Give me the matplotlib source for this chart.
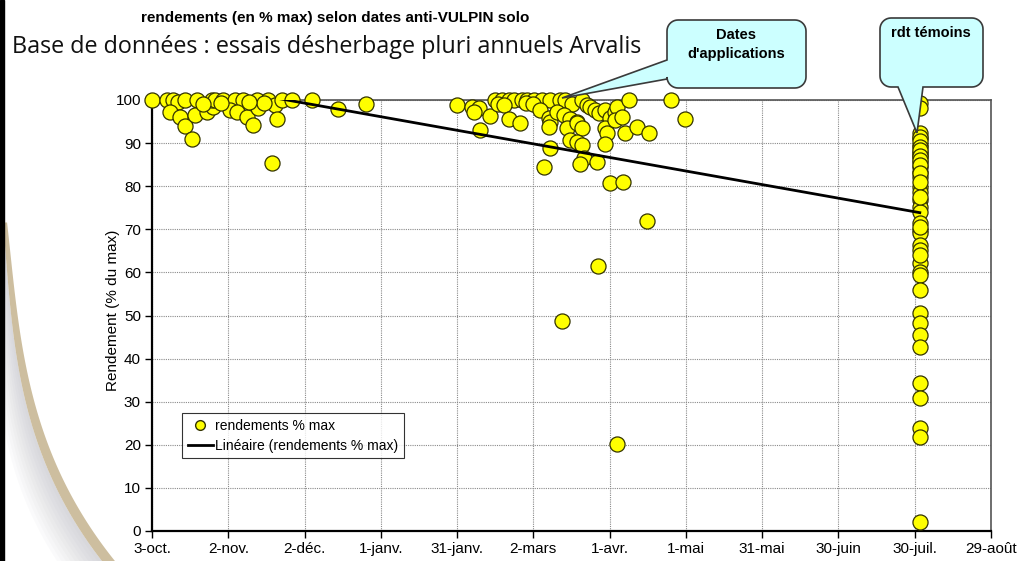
import matplotlib.pyplot as plt
from matplotlib.patches import Polygon, Rectangle
from matplotlib.lines import Line2D
import numpy as np

# jours comptés depuis le 3 octobre
labels_x = ['3-oct.', '2-nov.', '2-déc.', '1-janv.', '31-janv.', '2-mars',
            '1-avr.', '1-mai', '31-mai', '30-juin', '30-juil.', '29-août']

# essais d'automne
jours_automne = [0, 5.8, 8.3, 10.2, 13, 17.7, 7.1, 11, 13, 15.6, 16.9, 21.5, 24, 23.5,
                 24.8, 28, 32.7, 35.8, 30.7, 33.3, 37.3, 39.8, 41.2, 41.7, 45.7, 48.4,
                 51, 55, 49.1, 47.1, 62.9, 73.2, 84.2, 20, 27, 44, 38]
rdt_automne = [100, 100, 100, 99.5, 100, 100, 97.3, 96.1, 94.0, 90.9, 96.5, 97.3, 98.4, 100,
               100, 100, 100, 100, 97.7, 97.3, 96.1, 94.2, 100, 98.1, 100, 98.8,
               100, 100, 95.6, 85.3, 100, 97.9, 99.1, 99, 99.3, 99.2, 99.5]

# essais de sortie d'hiver / printemps
jours_printemps = [119.8, 125.9, 128.5, 126.5, 129.1, 133, 135, 137.7, 140.3, 142.2, 145.6,
                   147.5, 150.1, 153.4, 156.7, 136, 138.5, 147, 150, 140.3, 144.9, 152.8,
                   156, 156.7, 156, 156.7, 154, 160.6, 162.6, 165.2, 169.2, 171.1, 159.3,
                   161.9, 164.6, 167.2, 163.3, 167.2, 169.2, 164.6, 167.2, 169.2, 169.8,
                   168.5, 175, 172.4, 174.4, 175.7, 178.3, 180.3, 182.3, 183, 187.5, 178.3,
                   179, 178.3, 182.3, 184.9, 186.2, 190.8, 195.4, 180.3, 185.3, 204.3,
                   209.8, 194.5, 175.3, 161.3, 182.7]
rdt_printemps = [98.9, 98.4, 98.1, 97.3, 93.0, 96.4, 100, 100, 100, 100, 100,
                 100, 100, 100, 100, 99, 98.8, 99.2, 99, 95.6, 94.7, 97.7,
                 95.8, 95.0, 93.8, 88.9, 84.5, 100, 100, 99, 100, 98.8, 97.3,
                 96.5, 95.7, 95.0, 93.4, 94.6, 93.4, 90.7, 90.3, 89.6, 86.5,
                 85.1, 85.5, 98.4, 97.7, 96.9, 97.7, 95.8, 97.3, 98.4, 100, 93.4,
                 92.3, 89.7, 95.4, 96.1, 92.3, 93.8, 92.3, 80.8, 81.0, 100,
                 95.7, 72.0, 61.6, 48.8, 20.1]

# témoins non traités (30 juillet)
rdt_temoins = [99.2, 98.1, 92.3, 91.1, 89.6, 88.0, 86.8, 85.7, 84.5, 83.4, 82.2, 79.9,
               78.7, 76.8, 75.2, 74.1, 71.4, 69.8, 69.1, 66.4, 65.2, 62.1, 60.2, 59.5,
               55.9, 50.5, 48.2, 45.5, 42.8, 34.3, 30.8, 23.8, 21.9, 2.2, 87.5, 70.5, 64.0,
               91.5, 90.5, 89.0, 88.5, 87.0, 86.0, 85.0, 83.0, 81.0, 77.5]
jours_temoins = [302] * len(rdt_temoins)

jours = np.array(jours_automne + jours_printemps + jours_temoins)
rdt = np.array(rdt_automne + rdt_printemps + rdt_temoins)

plt.rcParams['font.family'] = ['Liberation Sans', 'DejaVu Sans']

fig = plt.figure(figsize=(10.23, 5.61), dpi=100)

# fond de diapo (pixels)
deco = fig.add_axes([0, 0, 1, 1], zorder=0)
deco.set_xlim(0, 1023)
deco.set_ylim(561, 0)
deco.axis('off')

yy = np.linspace(222, 561, 200)
ctrl_y = [222, 235, 300, 380, 433, 490, 537, 561]
ctrl_x = [2, 4, 10, 20, 33, 57, 87, 100]
xo = np.polyval(np.polyfit(ctrl_y, ctrl_x, 3), yy)
larg = np.linspace(4, 13, yy.size)
ombre = np.linspace(3, 45, yy.size)
for k in range(10):
    deco.fill_betweenx(yy, np.maximum(xo - ombre * (k + 1) / 10, 4), xo,
                       color='#8a8a98', alpha=0.035, lw=0)
deco.fill_betweenx(yy, xo, xo + larg, color='#cdbe9f', lw=0)
deco.add_patch(Rectangle((0, 0), 4, 561, color='black'))

deco.text(12, 53, 'Base de données : essais désherbage pluri annuels Arvalis',
          fontsize=16.8, family='Open Sans', color='#111111', va='baseline')
deco.text(335, 22, 'rendements (en % max) selon dates anti-VULPIN solo',
          fontsize=11, fontweight='bold', ha='center', va='baseline')
deco.text(113, 310, 'Rendement (% du max)', rotation=90, ha='center', va='center',
          fontsize=11)

# graphique
ax = fig.add_axes([152 / 1023, 30 / 561, 839 / 1023, 431 / 561], zorder=1)
ax.set_facecolor('none')
ax.scatter(jours, rdt, s=118, c='#ffff00', edgecolors='#333300', linewidths=0.9, zorder=3,
           clip_on=False)
a, b = np.polyfit(jours, rdt, 1)
xt = np.array([jours.min(), jours.max()])
ax.plot(xt, a * xt + b, color='black', lw=2, zorder=4)

ax.set_xlim(0, 330)
ax.set_ylim(0, 100)
ax.set_xticks(np.arange(0, 331, 30))
ax.set_xticklabels(labels_x)
ax.set_yticks(np.arange(0, 101, 10))
ax.tick_params(labelsize=11, direction='out', length=5, width=1, pad=3)
ax.grid(True, ls=(0, (1, 1)), color='#8a8a8a', lw=0.8)
ax.set_axisbelow(True)
for s in ['left', 'bottom']:
    ax.spines[s].set_linewidth(1.6)
for s in ['top', 'right']:
    ax.spines[s].set_color('#555555')
    ax.spines[s].set_linewidth(1.2)

poignees = [Line2D([], [], ls='none', marker='o', markersize=7, mfc='#ffff00', mec='#333300'),
            Line2D([], [], color='black', lw=2)]
leg = ax.legend(poignees, ['rendements % max', 'Linéaire (rendements % max)'],
                loc='upper left', bbox_to_anchor=(30 / 839, 118 / 431), borderaxespad=0,
                fontsize=10, frameon=True, fancybox=False, handlelength=1.8,
                labelspacing=0.45, borderpad=0.4, handletextpad=0.2)
leg.get_frame().set_edgecolor('black')
leg.get_frame().set_linewidth(0.8)

# bulles d'annotation
bulles = fig.add_axes([0, 0, 1, 1], zorder=5)
bulles.set_xlim(0, 1023)
bulles.set_ylim(561, 0)
bulles.axis('off')


def bulle(x0, y0, x1, y1, cote, b1, b2, pointe, r=11):
    def arc(cx, cy, a0, a1):
        t = np.radians(np.linspace(a0, a1, 10))
        return list(zip(cx + r * np.cos(t), cy + r * np.sin(t)))
    pts = arc(x0 + r, y0 + r, 180, 270) + arc(x1 - r, y0 + r, 270, 360)
    pts += arc(x1 - r, y1 - r, 0, 90)
    if cote == 'bas':
        pts += [(b2, y1), pointe, (b1, y1)]
    pts += arc(x0 + r, y1 - r, 90, 180)
    if cote == 'gauche':
        pts += [(x0, b2), pointe, (x0, b1)]
    bulles.add_patch(Polygon(pts, closed=True, fc='#ccffff', ec='#3a3a3a', lw=1.2))


bulle(667, 20, 806, 88, 'gauche', 60, 79, (562, 98))
bulle(880, 18, 983, 87, 'bas', 898, 923, (917, 133))
bulles.text(736, 35, 'Dates', ha='center', va='center', fontsize=10.5, fontweight='bold')
bulles.text(736, 54, "d'applications", ha='center', va='center', fontsize=10.5,
            fontweight='bold')
bulles.text(931, 33, 'rdt témoins', ha='center', va='center', fontsize=10.5,
            fontweight='bold')

fig.savefig('out.png', dpi=100)
